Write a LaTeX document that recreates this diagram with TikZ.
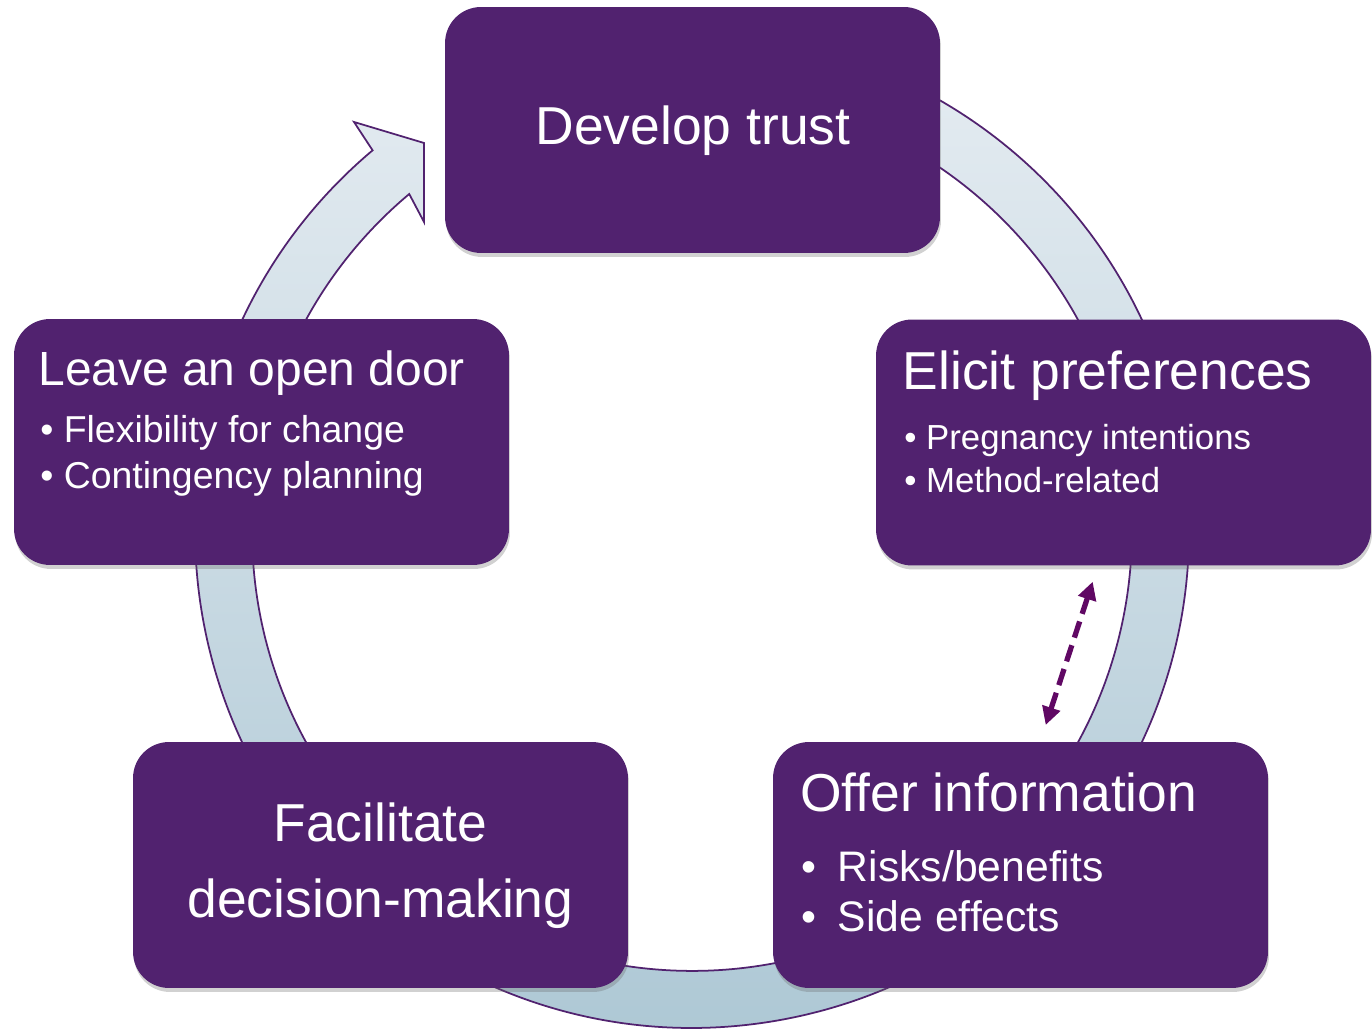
\documentclass[tikz,border=0pt]{standalone}
\usepackage{fontspec}
\setmainfont{Liberation Sans}
\usetikzlibrary{arrows.meta,shadows}
\definecolor{plum}{RGB}{81,34,111}
\definecolor{ringtop}{RGB}{232,238,243}
\definecolor{ringbot}{RGB}{172,199,212}
\definecolor{dashplum}{RGB}{96,8,100}

\begin{document}
\begin{tikzpicture}[x=0.02cm,y=0.02cm,
	box/.style ={rectangle, fill=plum, rounded corners=0.72cm, minimum width=9.9cm, minimum height=4.92cm,
		drop shadow={shadow xshift=0.02cm, shadow yshift=-0.08cm, opacity=0.3, fill=black!60}},
	head/.style ={text=white, inner sep=0pt, font=\fontsize{30.4}{36}\selectfont},
	item/.style ={text=white, inner sep=0pt, font=\fontsize{21.3}{25}\selectfont, anchor=base west},
	ring/.style ={draw=plum, line width=1pt, top color=ringtop, bottom color=ringbot},
	twoway/.style ={draw=dashplum, line width=3pt, dash pattern=on 0.34cm off 0.16cm,
		{Triangle[length=0.36cm,width=0.36cm]}-{Triangle[length=0.36cm,width=0.36cm]}}]
		\useasboundingbox (0,0) rectangle (1372,1030);
		\coordinate (cen) at (692,499);
		% circular arrow behind the boxes
		\draw[ring] ([shift={(100:9.94cm)}]cen) arc[start angle=100, end angle=-230, radius=9.94cm]
			-- (354,908) -- (424,887) -- (424,808)
			-- ([shift={(130:8.8cm)}]cen) arc[start angle=-230, end angle=100, radius=8.8cm] -- cycle;
		\node[box] (trust) at (692.5,900) {};
		\node[box] (door) at (261.5,588) {};
		\node[box] (elicit) at (1123.5,587.5) {};
		\node[box] (offer) at (1020.5,165) {};
		\node[box] (facil) at (380.5,165) {};
		\node[head, anchor=base] (trusthead) at (693,885) {Develop trust};
		\node[head, anchor=base west, font=\fontsize{27.3}{33}\selectfont] (doorhead) at (38,644) {Leave an open door};
		\node[item] (door1) at (40,587) {• Flexibility for change};
		\node[item] (door2) at (40,541) {• Contingency planning};
		\node[head, anchor=base west] (elicithead) at (902.5,640) {Elicit preferences};
		\node[item, font=\fontsize{19.8}{24}\selectfont] (elicit1) at (904,580) {• Pregnancy intentions};
		\node[item, font=\fontsize{19.8}{24}\selectfont] (elicit2) at (904,537) {• Method-related};
		\node[head, anchor=base west] (offerhead) at (800,218) {Offer information};
		\node[item, font=\fontsize{24.3}{29}\selectfont] (offer1) at (801.5,148) {•\hspace{12pt}Risks/benefits};
		\node[item, font=\fontsize{24.3}{29}\selectfont] (offer2) at (801.5,98) {•\hspace{12pt}Side effects};
		\node[head, anchor=base] (facil1) at (380.5,188) {Facilitate};
		\node[head, anchor=base] (facil2) at (380.5,112) {decision-making};
		\coordinate (dtop) at (1092.7,448.3);
		\coordinate (dbot) at (1045.7,305);
		\draw[twoway] (dtop) -- (dbot);
	\end{tikzpicture}
\end{document}
